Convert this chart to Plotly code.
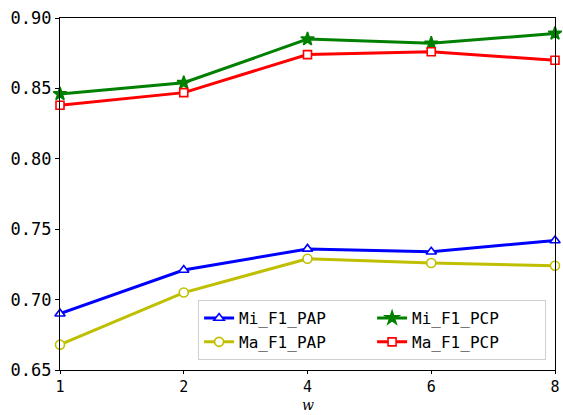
import plotly.graph_objects as go

w_labels = ["1", "2", "4", "6", "8"]
mi_f1_pap = [0.690, 0.721, 0.736, 0.734, 0.742]
ma_f1_pap = [0.668, 0.705, 0.729, 0.726, 0.724]
mi_f1_pcp = [0.846, 0.854, 0.885, 0.882, 0.889]
ma_f1_pcp = [0.838, 0.847, 0.874, 0.876, 0.870]

mono = "DejaVu Sans Mono"
fig = go.Figure()

def add(name, y, color, symbol, fill, size, rank):
    fig.add_trace(go.Scatter(
        x=w_labels, y=y, name=name, mode="lines+markers",
        line=dict(color=color, width=3),
        marker=dict(symbol=symbol, size=size, color=fill, line=dict(color=color, width=1.6)),
        cliponaxis=False, legendrank=rank))

add("Mi_F1_PAP", mi_f1_pap, "#0000ff", "triangle-up", "white", 9, 1)
add("Mi_F1_PCP", mi_f1_pcp, "#008000", "star", "#008000", 10, 2)
add("Ma_F1_PAP", ma_f1_pap, "#bfbf00", "circle", "white", 9, 3)
add("Ma_F1_PCP", ma_f1_pcp, "#ff0000", "square", "white", 8, 4)

fig.update_layout(
    width=563, height=415,
    margin=dict(l=60, r=8, t=18, b=45, autoexpand=False),
    paper_bgcolor="white", plot_bgcolor="white",
    font=dict(family=mono, size=17, color="black"),
    xaxis=dict(type="category", range=[0, 4], showline=True, mirror=True, automargin=False,
               linecolor="black", linewidth=1.2, ticks="outside", ticklen=3,
               tickcolor="black", showgrid=False, zeroline=False,
               tickfont=dict(size=15)),
    yaxis=dict(range=[0.65, 0.90], tickvals=[0.65, 0.70, 0.75, 0.80, 0.85, 0.90],
               ticktext=["0.65", "0.70", "0.75", "0.80", "0.85", "0.90"], automargin=False,
               showline=True, mirror=True, linecolor="black", linewidth=1.2,
               ticks="outside", ticklen=4, tickcolor="black", showgrid=False, zeroline=False),
    legend=dict(orientation="h", x=0.982, y=0.028, xanchor="right", yanchor="bottom",
                bgcolor="rgba(255,255,255,0.8)", bordercolor="#d0d0d0", borderwidth=1,
                entrywidth=128, entrywidthmode="pixels",
                font=dict(family=mono, size=16), tracegroupgap=0),
    annotations=[dict(text="<i>w</i>", x=0.5, y=-0.1278, xref="paper", yref="paper",
                      xanchor="center", yanchor="bottom", showarrow=False,
                      font=dict(family="DejaVu Serif", size=14, color="black"))],
    showlegend=True,
)

fig.write_html("out.html")
